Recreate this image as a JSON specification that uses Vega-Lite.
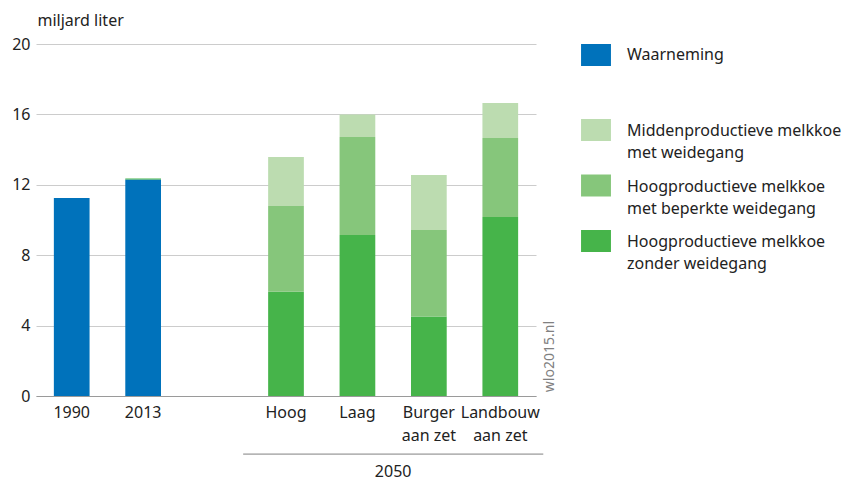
{
  "$schema": "https://vega.github.io/schema/vega-lite/v6.json",
  "width": 500,
  "height": 352,
  "autosize": "none",
  "padding": {"left": 36, "top": 44, "right": 313, "bottom": 85},
  "config": {"font": "Noto Sans", "view": {"stroke": null}, "text": {"font": "Noto Sans"}},
  "datasets": {
    "observed": [
      {"period": "1990", "series": "Waarneming", "value": 11.25},
      {"period": "2013", "series": "Waarneming", "value": 12.3}
    ],
    "sliver": [
      {"period": "2013", "series": "Hoogproductieve melkkoe zonder weidegang", "low": 12.3, "high": 12.36}
    ],
    "scenarios": [
      {"period": "Hoog", "series": "Hoogproductieve melkkoe zonder weidegang", "rank": 1, "value": 5.93},
      {"period": "Hoog", "series": "Hoogproductieve melkkoe met beperkte weidegang", "rank": 2, "value": 4.87},
      {"period": "Hoog", "series": "Middenproductieve melkkoe met weidegang", "rank": 3, "value": 2.78},
      {"period": "Laag", "series": "Hoogproductieve melkkoe zonder weidegang", "rank": 1, "value": 9.15},
      {"period": "Laag", "series": "Hoogproductieve melkkoe met beperkte weidegang", "rank": 2, "value": 5.57},
      {"period": "Laag", "series": "Middenproductieve melkkoe met weidegang", "rank": 3, "value": 1.28},
      {"period": "Burger aan zet", "series": "Hoogproductieve melkkoe zonder weidegang", "rank": 1, "value": 4.51},
      {"period": "Burger aan zet", "series": "Hoogproductieve melkkoe met beperkte weidegang", "rank": 2, "value": 4.92},
      {"period": "Burger aan zet", "series": "Middenproductieve melkkoe met weidegang", "rank": 3, "value": 3.13},
      {"period": "Landbouw aan zet", "series": "Hoogproductieve melkkoe zonder weidegang", "rank": 1, "value": 10.17},
      {"period": "Landbouw aan zet", "series": "Hoogproductieve melkkoe met beperkte weidegang", "rank": 2, "value": 4.49},
      {"period": "Landbouw aan zet", "series": "Middenproductieve melkkoe met weidegang", "rank": 3, "value": 1.99}
    ],
    "group": [{"label": "2050", "from": "Hoog", "to": "Landbouw aan zet"}],
    "source": [{"text": "wlo2015.nl"}]
  },
  "layer": [
    {
      "data": {"name": "observed"},
      "mark": {"type": "bar"},
      "encoding": {
        "x": {
          "field": "period",
          "type": "nominal",
          "sort": null,
          "scale": {"domain": ["1990", "2013", "gap", "Hoog", "Laag", "Burger aan zet", "Landbouw aan zet"], "paddingInner": 0.5, "paddingOuter": 0.25},
          "axis": {
            "title": null,
            "labelAngle": 0,
            "ticks": false,
            "grid": false,
            "domainColor": "#9a9a9a",
            "domainWidth": 1,
            "labelPadding": 8,
            "labelFontSize": 16,
            "labelColor": "#222222",
            "labelLineHeight": 23,
            "labelExpr": "datum.label == 'gap' ? '' : split(replace(datum.label, ' aan', '|aan'), '|')"
          }
        },
        "y": {
          "field": "value",
          "type": "quantitative",
          "scale": {"domain": [0, 20], "nice": false},
          "axis": {
            "values": [0, 4, 8, 12, 16, 20],
            "domain": false,
            "ticks": false,
            "gridColor": "#cccccc",
            "labelPadding": 6,
            "labelFontSize": 16,
            "labelColor": "#222222",
            "title": "miljard liter",
            "titleAngle": 0,
            "titleAlign": "left",
            "titleBaseline": "middle",
            "titleX": 1,
            "titleY": -24,
            "titleFontWeight": "normal",
            "titleFontSize": 16,
            "titleColor": "#222222"
          }
        },
        "fill": {
          "field": "series",
          "type": "nominal",
          "scale": {"domain": ["Waarneming"], "range": ["#0072bb"]},
          "legend": {
            "title": null,
            "orient": "none",
            "legendX": 549,
            "legendY": 0,
            "symbolType": "M-1.36,-1H1.36V1H-1.36Z",
            "symbolSize": 484,
            "symbolStrokeWidth": 0,
            "symbolOpacity": 1,
            "labelFontSize": 16,
            "labelColor": "#222222",
            "labelLimit": 300,
            "labelOffset": 20
          }
        }
      }
    },
    {
      "data": {"name": "scenarios"},
      "mark": {"type": "bar"},
      "encoding": {
        "x": {"field": "period", "type": "nominal"},
        "y": {"field": "value", "type": "quantitative", "stack": "zero"},
        "color": {
          "field": "series",
          "type": "nominal",
          "scale": {
            "domain": ["Middenproductieve melkkoe met weidegang", "Hoogproductieve melkkoe met beperkte weidegang", "Hoogproductieve melkkoe zonder weidegang"],
            "range": ["#bcdcb0", "#86c67b", "#46b44a"]
          },
          "legend": {
            "title": null,
            "orient": "none",
            "legendX": 549,
            "legendY": 75,
            "symbolType": "M-1.36,-1H1.36V1H-1.36Z",
            "symbolSize": 484,
            "symbolStrokeWidth": 0,
            "symbolOpacity": 1,
            "labelFontSize": 16,
            "labelColor": "#222222",
            "labelLimit": 300,
            "labelOffset": 20,
            "rowPadding": 13.5,
            "labelExpr": "split(replace(datum.label, 'melkkoe ', 'melkkoe|'), '|')",
            "encode": {"labels": {"update": {"lineHeight": {"value": 22}, "dy": {"value": 1}}}}
          }
        },
        "order": {"field": "rank", "type": "quantitative"}
      }
    },
    {
      "data": {"name": "sliver"},
      "mark": {"type": "bar"},
      "encoding": {
        "x": {"field": "period", "type": "nominal"},
        "y": {"field": "low", "type": "quantitative"},
        "y2": {"field": "high"},
        "color": {"field": "series", "type": "nominal"}
      }
    },
    {
      "data": {"name": "group"},
      "mark": {"type": "rule", "color": "#808080", "strokeWidth": 1, "xOffset": -25, "x2Offset": 43},
      "encoding": {
        "x": {"field": "from", "type": "nominal", "bandPosition": 0},
        "x2": {"field": "to"},
        "y": {"datum": -3.3, "type": "quantitative"}
      }
    },
    {
      "data": {"name": "group"},
      "mark": {"type": "text", "fontSize": 16, "color": "#222222", "baseline": "middle", "align": "center"},
      "encoding": {
        "x": {"datum": "Laag", "type": "nominal", "bandPosition": 1.5},
        "y": {"datum": -4.3, "type": "quantitative"},
        "text": {"field": "label"}
      }
    },
    {
      "data": {"name": "source"},
      "mark": {"type": "text", "fontSize": 14, "color": "#808080", "baseline": "middle", "align": "center", "angle": 270, "dy": 32},
      "encoding": {
        "x": {"datum": "Landbouw aan zet", "type": "nominal", "bandPosition": 1},
        "y": {"datum": 2.24, "type": "quantitative"},
        "text": {"field": "text"}
      }
    }
  ]
}
